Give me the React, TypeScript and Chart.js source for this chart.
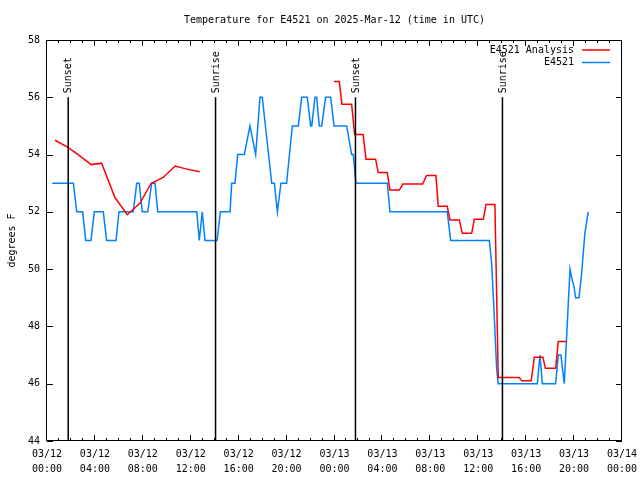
import React, { useEffect, useRef } from 'react';
import { Chart, registerables } from 'chart.js';

Chart.register(...registerables);

const FONT = '"DejaVu Sans Mono", "Liberation Mono", monospace';

const titleText = 'Temperature for E4521 on 2025-Mar-12 (time in UTC)';
const yAxisTitle = 'degrees F';

// x axis: hours since 03/12 00:00 UTC
const tickDates = ['03/12', '03/12', '03/12', '03/12', '03/12', '03/12', '03/13', '03/13', '03/13', '03/13', '03/13', '03/13', '03/14'];
const tickTimes = ['00:00', '04:00', '08:00', '12:00', '16:00', '20:00', '00:00', '04:00', '08:00', '12:00', '16:00', '20:00', '00:00'];

const obsLabel = 'E4521';
const obsHours = [
  0.44, 2.2, 2.48, 2.98, 3.23, 3.67, 3.95, 4.7, 4.98, 5.76, 6.01, 7.2, 7.49, 7.7, 7.95, 8.41, 8.74, 9.02, 9.24,
  12.5, 12.71, 12.96, 13.19, 14.2, 14.47, 15.28, 15.42, 15.69, 15.92, 16.47, 16.94, 17.42, 17.78, 17.97, 18.76,
  18.98, 19.23, 19.53, 20.0, 20.48, 20.98, 21.26, 21.73, 22.01, 22.1, 22.37, 22.51, 22.73, 22.93, 23.26, 23.68,
  23.96, 25.02, 25.43, 25.57, 25.79, 28.41, 28.63, 33.41, 33.7, 36.92, 37.12, 37.31, 37.54, 37.67, 40.93, 41.15,
  41.35, 42.46, 42.68, 42.9, 43.18, 43.66, 43.85, 43.99, 44.13, 44.41, 44.63, 44.9, 45.18,
];
const obsTemps = [
  53, 53, 52, 52, 51, 51, 52, 52, 51, 51, 52, 52, 53, 53, 52, 52, 53, 53, 52,
  52, 51, 52, 51, 51, 52, 52, 53, 53, 54, 54, 55, 54, 56, 56, 53,
  53, 52, 53, 53, 55, 55, 56, 56, 55, 55, 56, 56, 55, 55, 56, 56,
  55, 55, 54, 54, 53, 53, 52, 52, 51, 51, 50.2, 48.6, 46.5, 46, 46, 47,
  46, 46, 47, 47, 46, 50, 49.6, 49.4, 49, 49, 49.85, 51.25, 52,
];

const anaLabel = 'E4521 Analysis';
const anaHours = [
  0.67, 1.75, 2.6, 3.7, 4.56, 5.67, 6.7, 7.75, 8.7, 9.7, 10.7, 11.6, 12.75, 13.0,
  23.96, 24.4, 24.62, 25.43, 25.68, 26.39, 26.63, 27.43, 27.65, 28.4, 28.63, 29.41, 29.7, 31.36, 31.69, 32.47,
  32.66, 33.41, 33.64, 34.42, 34.67, 35.45, 35.67, 36.42, 36.65, 37.39, 37.67, 39.42, 39.62, 40.42, 40.68, 41.4,
  41.6, 42.46, 42.68, 43.38,
];
const anaTemps: (number | null)[] = [
  54.5, 54.25, 54.0, 53.65, 53.7, 52.5, 51.9, 52.3, 53.0, 53.2, 53.6, 53.5, 53.4, null,
  56.55, 56.55, 55.76, 55.76, 54.7, 54.7, 53.84, 53.84, 53.37, 53.37, 52.76, 52.76, 52.97, 52.97, 53.27, 53.27,
  52.2, 52.2, 51.72, 51.72, 51.25, 51.25, 51.74, 51.74, 52.26, 52.26, 46.22, 46.22, 46.1, 46.1, 46.92, 46.92,
  46.54, 46.54, 47.47, 47.47,
];

const sunHours = [1.77, 14.07, 25.75, 38.02];
const sunNames = ['Sunset', 'Sunrise', 'Sunset', 'Sunrise'];
const sunTopTemp = 56;

const decorPlugin = {
  id: 'decor',
  afterDatasetsDraw(chart: any) {
    const { ctx, chartArea: a } = chart;
    const x = chart.scales.x;
    const y = chart.scales.y;
    ctx.save();

    // sunrise / sunset markers
    ctx.strokeStyle = '#000';
    ctx.fillStyle = '#000';
    ctx.lineWidth = 1.5;
    sunHours.forEach((h, i) => {
      const px = x.getPixelForValue(h);
      const top = y.getPixelForValue(sunTopTemp);
      ctx.beginPath();
      ctx.moveTo(px, top);
      ctx.lineTo(px, a.bottom);
      ctx.stroke();
      ctx.save();
      ctx.translate(px + 0.5, top - 4);
      ctx.rotate(-Math.PI / 2);
      ctx.font = '10px ' + FONT;
      ctx.textAlign = 'left';
      ctx.textBaseline = 'middle';
      ctx.fillText(sunNames[i], 0, 0);
      ctx.restore();
    });

    // frame
    ctx.lineWidth = 1;
    ctx.strokeRect(a.left - 0.5, a.top + 0.5, a.right - a.left, a.bottom - a.top - 1);

    // x ticks (major every 4 h, minor every hour), inward, top and bottom
    const xMin = x.min;
    const xMax = x.max;
    ctx.beginPath();
    for (let h = xMin; h <= xMax; h += 1) {
      const px = Math.round(x.getPixelForValue(h)) - 0.5;
      const len = h % 4 === 0 ? 6 : 3;
      ctx.moveTo(px, a.bottom);
      ctx.lineTo(px, a.bottom - len);
      ctx.moveTo(px, a.top);
      ctx.lineTo(px, a.top + len);
    }
    // y ticks
    y.ticks.forEach((t: any) => {
      const py = Math.round(y.getPixelForValue(t.value)) + 0.5;
      ctx.moveTo(a.left, py);
      ctx.lineTo(a.left + 6, py);
      ctx.moveTo(a.right, py);
      ctx.lineTo(a.right - 6, py);
    });
    ctx.stroke();

    // legend (text right-aligned, sample line on the right)
    ctx.font = '10px ' + FONT;
    ctx.textAlign = 'right';
    ctx.textBaseline = 'middle';
    chart.data.datasets.forEach((ds: any, i: number) => {
      const ly = a.top + 10 + i * 12.5;
      ctx.fillStyle = '#000';
      ctx.fillText(ds.label, a.right - 48, ly);
      ctx.strokeStyle = ds.borderColor;
      ctx.lineWidth = ds.borderWidth;
      ctx.beginPath();
      ctx.moveTo(a.right - 40, ly);
      ctx.lineTo(a.right - 12, ly);
      ctx.stroke();
    });

    ctx.restore();
  },
};

export default function App() {
  const ref = useRef<HTMLCanvasElement | null>(null);

  useEffect(() => {
    if (!ref.current) return;
    Chart.defaults.color = '#000';
    const chart = new Chart(ref.current, {
      type: 'line',
      data: {
        datasets: [
          {
            label: anaLabel,
            data: anaHours.map((h, i) => ({ x: h, y: anaTemps[i] })),
            borderColor: '#ff0000',
            backgroundColor: '#ff0000',
            borderWidth: 1.5,
            pointRadius: 0,
            tension: 0,
            spanGaps: false,
          },
          {
            label: obsLabel,
            data: obsHours.map((h, i) => ({ x: h, y: obsTemps[i] })),
            borderColor: '#0080ff',
            backgroundColor: '#0080ff',
            borderWidth: 1.5,
            pointRadius: 0,
            tension: 0,
          },
        ],
      },
      options: {
        responsive: false,
        animation: false,
        events: [],
        layout: { padding: { left: 0, right: 18, top: 0, bottom: 0 } },
        plugins: {
          legend: { display: false },
          tooltip: { enabled: false },
          title: {
            display: true,
            text: titleText,
            fullSize: false,
            color: '#000',
            font: { family: FONT, size: 10, weight: 'normal', lineHeight: '14px' },
            padding: { top: 13, bottom: 13 },
          },
        },
        scales: {
          x: {
            type: 'linear',
            min: 0,
            max: 48,
            offset: false,
            grid: { display: false, drawTicks: false },
            border: { display: false },
            ticks: {
              stepSize: 4,
              autoSkip: false,
              maxRotation: 0,
              padding: 6,
              color: '#000',
              font: { family: FONT, size: 10, lineHeight: 1.5 },
              callback: (v: any) => {
                const i = Math.round(Number(v) / 4);
                return [tickDates[i], tickTimes[i]];
              },
            },
            afterFit: (s: any) => {
              s.height = 39;
              s.paddingLeft = 0;
              s.paddingRight = 0;
            },
          },
          y: {
            type: 'linear',
            min: 44,
            max: 58,
            grid: { display: false, drawTicks: false },
            border: { display: false },
            ticks: {
              stepSize: 2,
              padding: 7,
              color: '#000',
              font: { family: FONT, size: 10 },
            },
            title: {
              display: true,
              text: yAxisTitle,
              color: '#000',
              font: { family: FONT, size: 10 },
              padding: { top: 6, bottom: 0 },
            },
            afterFit: (s: any) => {
              s.width = 47;
            },
          },
        },
      },
      plugins: [decorPlugin],
    });
    return () => chart.destroy();
  }, []);

  return (
    <div style={{ position: 'absolute', left: 0, top: 0, width: 640, height: 480 }}>
      <canvas ref={ref} width={640} height={480} />
    </div>
  );
}
